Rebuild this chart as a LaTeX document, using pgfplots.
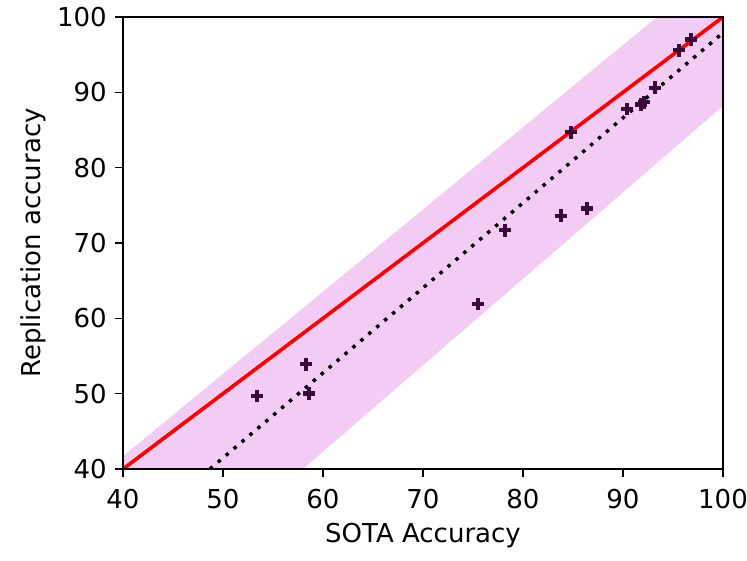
\documentclass[border=0pt]{standalone}
\usepackage{pgfplots}
\pgfplotsset{compat=1.18}
\usetikzlibrary{calc}
\usepackage{fontspec}
\setmainfont{DejaVu Sans}
\definecolor{band}{RGB}{243,204,243}
\definecolor{mk}{RGB}{58,10,58}
\begin{document}
\begin{tikzpicture}
\fontsize{19.5}{23}\selectfont
\begin{axis}[
  scale only axis, width=450pt, height=339pt,
  xmin=40, xmax=100, ymin=40, ymax=100,
  xtick={40,50,60,70,80,90,100}, ytick={40,50,60,70,80,90,100},
  tick align=outside, major tick length=6pt,
  tick style={black, line width=0.9pt},
  axis line style={line width=1pt},
  xtick pos=bottom, ytick pos=left,
  /pgf/number format/assume math mode=true,
  tick label style={font=\fontsize{19.5}{23}\selectfont},
  xticklabel style={yshift=-2.5pt},
  yticklabel style={xshift=0.5pt},
  label style={font=\fontsize{19.5}{23}\selectfont},
  xlabel={SOTA Accuracy}, ylabel={Replication accuracy},
  every axis x label/.style={at={(axis description cs:0.5,-0.1625)},anchor=base},
  every axis y label/.style={at={(axis description cs:-0.1383,0.5)},rotate=90,anchor=base},
  clip=true,
  axis on top,
]
\addplot[fill=band, draw=none] coordinates {(40,40) (40,41.7) (93.4,100) (100,100) (100,88.2) (58,40)} -- cycle;
\addplot[red, line width=2.7pt] coordinates {(40,40) (100,100)};
\addplot[black, line width=2.6pt, dash pattern=on 2.6pt off 5.2pt, line cap=butt] coordinates {(48.7,40) (100,97.9)};
\addplot[only marks, mark=+, mark size=4.8pt, mark options={mk, line width=3.3pt}] coordinates {
(53.4,49.7) (58.3,53.9) (58.6,50.0) (75.5,61.9) (78.2,71.7) (83.8,73.6) (86.4,74.6)
(84.8,84.7) (90.4,87.8) (91.8,88.4) (92.1,88.7) (93.2,90.6) (95.6,95.6) (96.8,97.0)};
\end{axis}
\pgfresetboundingbox
\path ($(current axis.south west)+(-92.25pt,-69pt)$) rectangle ($(current axis.north east)+(18pt,12.75pt)$);
\end{tikzpicture}
\end{document}
